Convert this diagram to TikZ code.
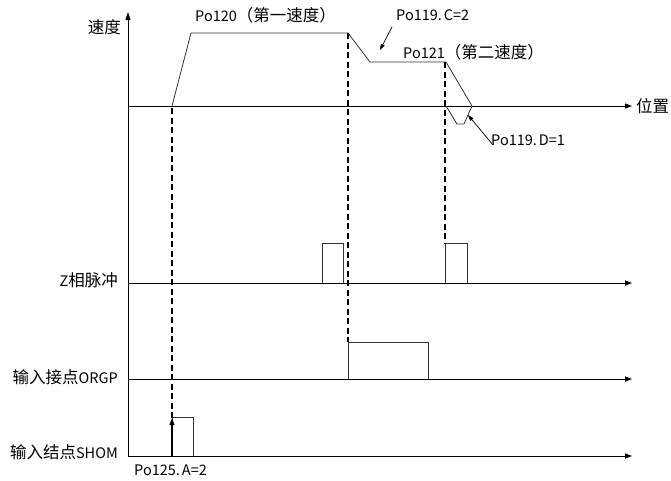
\documentclass[tikz,border=0pt]{standalone}
\usepackage{fontspec}
\setmainfont{Noto Sans CJK SC}
\usetikzlibrary{arrows.meta}
\newcommand\cj[1]{{\fontsize{16.5pt}{18pt}\selectfont #1}}
\newcommand\dt{.\hspace{2pt}}
\begin{document}
\begin{tikzpicture}[x=1pt,y=-1pt,
  axis/.style={line width=0.8pt,-{Triangle[length=7pt,width=5pt]}},
  sig/.style={line width=0.8pt,black!80},
  guide/.style={line width=1.8pt,dash pattern=on 6pt off 3.5pt},
  lbl/.style={font=\fontsize{14.5pt}{15pt}\selectfont,inner sep=0pt},
  lead/.style={line width=0.7pt,-{Triangle[length=6pt,width=4pt]}}]
\useasboundingbox (0,0) rectangle (671,480);
% axes
\draw[line width=0.8pt,-{Triangle[length=8pt,width=5pt]}] (128,456) -- (128,12);
\draw[axis] (128,106) -- (632,106);
\draw[axis] (128,283) -- (632,283);
\draw[axis] (128,379) -- (632,379);
\draw[axis] (128,456) -- (632,456);
% speed profile
\draw[sig] (172,106) -- (191,33) -- (348,33) -- (370,62) -- (446,62) -- (472,106);
\draw[sig] (446,106) -- (457,124) -- (464,124) -- (472,106);
% Z pulses
\draw[sig] (322,283) -- (322,243) -- (343,243) -- (343,283);
\draw[sig] (445,283) -- (445,243) -- (467,243) -- (467,283);
% ORGP
\draw[sig] (348,379) -- (348,342) -- (428,342) -- (428,379);
% SHOM
\draw[sig] (172,456) -- (172,417) -- (193,417) -- (193,456);
\draw[line width=1.2pt,-{Triangle[length=7pt,width=5pt]}] (172,456) -- (172,418);
% dashed guides
\draw[guide] (172,418) -- (172,106);
\draw[guide] (348,33) -- (348,342);
\draw[guide] (445,62) -- (445,243);
% labels
\node[lbl,anchor=east] (vlbl) at (121,27) {\cj{速度}};
\node[lbl,anchor=west] (plbl) at (636,106) {\cj{位置}};
\node[lbl,anchor=west] (p120) at (195,15) {Po120\cj{（第一速度）}};
\node[lbl,anchor=west] (p119c) at (396,15) {Po119\dt C=2};
\node[lbl,anchor=west] (p121) at (403,52) {Po121\cj{（第二速度）}};
\node[lbl,anchor=west] (p119d) at (491,140) {Po119\dt D=1};
\node[lbl,anchor=east] (zlbl) at (118,280) {Z\cj{相脉冲}};
\node[lbl,anchor=east] (olbl) at (118,377) {\cj{输入接点}ORGP};
\node[lbl,anchor=east] (slbl) at (118,452) {\cj{输入结点}SHOM};
\node[lbl,anchor=west] (p125) at (134,470) {Po125\dt A=2};
% leaders
\coordinate (c1) at (392,27);
\coordinate (c2) at (380,50);
\coordinate (d1) at (493,145);
\coordinate (d2) at (468,115);
\draw[lead] (c1) -- (c2);
\draw[lead] (d1) -- (d2);
\end{tikzpicture}
\end{document}
